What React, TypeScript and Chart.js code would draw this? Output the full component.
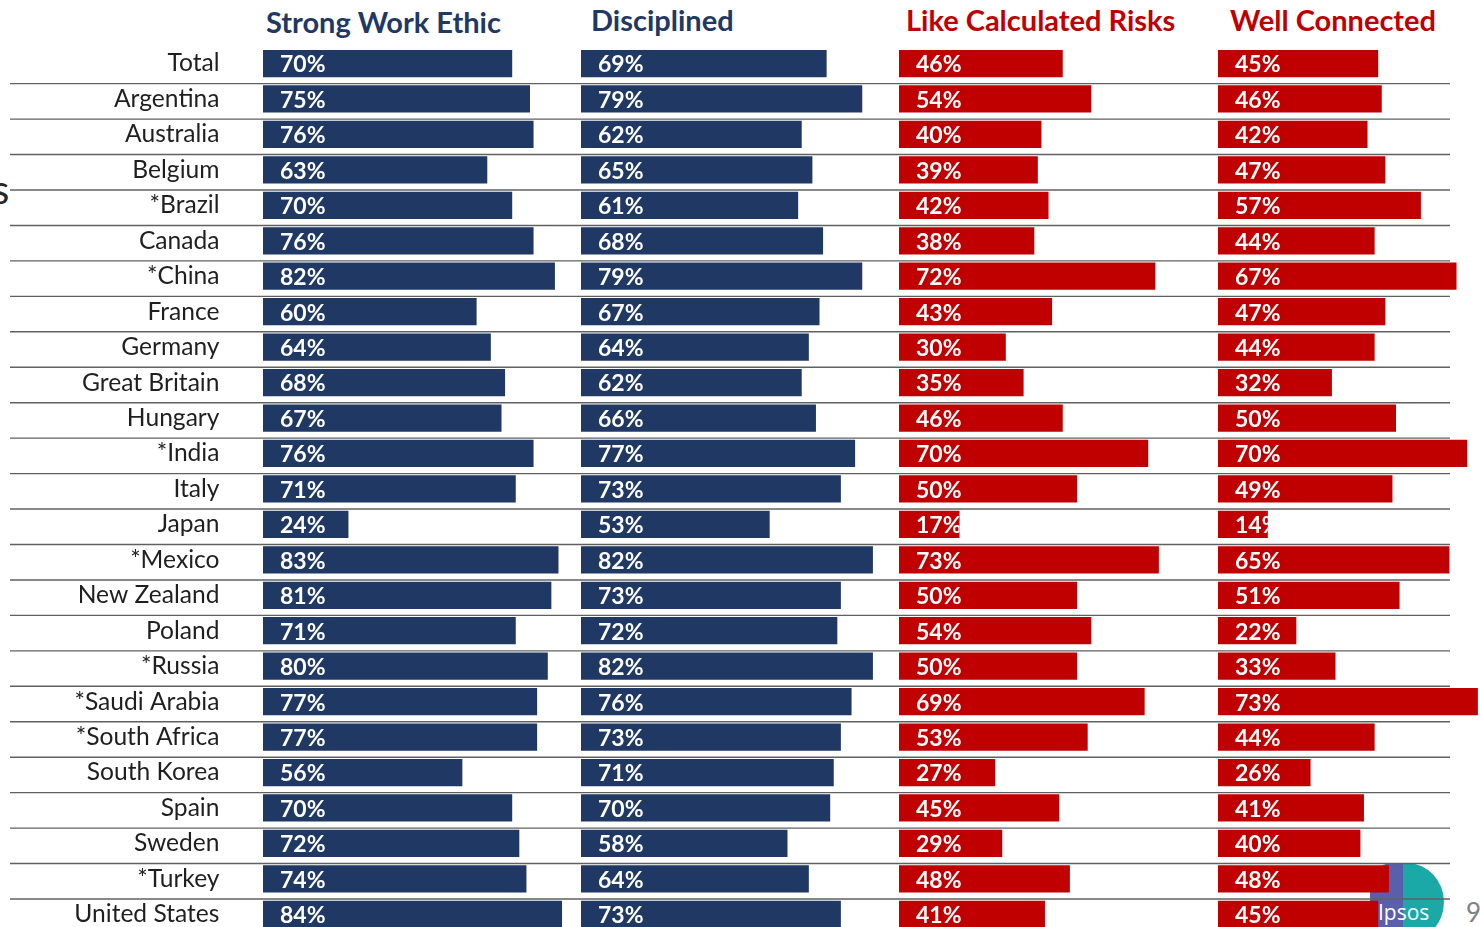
import React, { useEffect, useRef } from "react";
import { Chart, registerables } from "chart.js";

Chart.register(...registerables);

// ---------- data ----------
const countries = [
  "Total", "Argentina", "Australia", "Belgium", "*Brazil", "Canada", "*China", "France",
  "Germany", "Great Britain", "Hungary", "*India", "Italy", "Japan", "*Mexico", "New Zealand",
  "Poland", "*Russia", "*Saudi Arabia", "*South Africa", "South Korea", "Spain", "Sweden",
  "*Turkey", "United States",
];
const strongWorkEthic = [70, 75, 76, 63, 70, 76, 82, 60, 64, 68, 67, 76, 71, 24, 83, 81, 71, 80, 77, 77, 56, 70, 72, 74, 84];
const disciplined = [69, 79, 62, 65, 61, 68, 79, 67, 64, 62, 66, 77, 73, 53, 82, 73, 72, 82, 76, 73, 71, 70, 58, 64, 73];
const likeCalculatedRisks = [46, 54, 40, 39, 42, 38, 72, 43, 30, 35, 46, 70, 50, 17, 73, 50, 54, 50, 69, 53, 27, 45, 29, 48, 41];
const wellConnected = [45, 46, 42, 47, 57, 44, 67, 47, 44, 32, 50, 70, 49, 14, 65, 51, 22, 33, 73, 44, 26, 41, 40, 48, 45];
const columnTitles = ["Strong Work Ethic", "Disciplined", "Like Calculated Risks", "Well Connected"];

// ---------- styling / layout ----------
const NAVY = "#1F3864";
const RED = "#C00000";
const FONT = "Lato, 'Open Sans', sans-serif";
const colors = [NAVY, NAVY, RED, RED];
const seriesList = [strongWorkEthic, disciplined, likeCalculatedRisks, wellConnected];
const COL_LEFT = [263, 581, 899, 1218];
const TITLE_LEFT = [266, 591, 906, 1230];
const TITLE_BASE = [33, 31, 31, 31];
const AREA_W = 356; // 0..100 %
const TOP = 45.8;
const ROW_H = 35.45;
const CANVAS_H = 952;
const W0 = 1480;

const barLabelPlugin = {
  id: "barLabels",
  afterDatasetsDraw(chart: any) {
    const ctx = chart.ctx;
    const ds = chart.data.datasets[0];
    const meta = chart.getDatasetMeta(0);
    meta.data.forEach((bar: any, i: number) => {
      const p = bar.getProps(["x", "y", "base", "height"], true);
      ctx.save();
      ctx.beginPath();
      ctx.rect(p.base, p.y - p.height / 2, p.x - p.base, p.height);
      ctx.clip();
      ctx.fillStyle = "#ffffff";
      ctx.font = `bold 23px ${FONT}`;
      ctx.textBaseline = "middle";
      ctx.textAlign = "left";
      ctx.fillText(ds.data[i] + "%", p.base + 17, p.y + 1.5);
      ctx.restore();
    });
  },
};

const separatorPlugin = {
  id: "separators",
  beforeDatasetsDraw(chart: any) {
    const y = chart.scales.y;
    const ctx = chart.ctx;
    ctx.save();
    ctx.strokeStyle = "#606060";
    ctx.lineWidth = 1.4;
    for (let i = 1; i < countries.length; i++) {
      const yy = (y.getPixelForValue(i - 1) + y.getPixelForValue(i)) / 2 + 2.4;
      ctx.beginPath();
      ctx.moveTo(10, yy);
      ctx.lineTo(1450, yy);
      ctx.stroke();
    }
    ctx.restore();
  },
};

function makeConfig(idx: number): any {
  const first = idx === 0;
  const chartLeft = first ? COL_LEFT[0] : 0;
  const width = first ? W0 : AREA_W;
  return {
    type: "bar",
    data: {
      labels: countries,
      datasets: [
        {
          data: seriesList[idx],
          backgroundColor: colors[idx],
          borderWidth: 0,
          categoryPercentage: 1,
          barPercentage: 0.77,
        },
      ],
    },
    options: {
      indexAxis: "y",
      animation: false,
      responsive: false,
      maintainAspectRatio: false,
      events: [],
      layout: {
        padding: {
          top: TOP,
          bottom: CANVAS_H - TOP - countries.length * ROW_H,
          left: 0,
          right: width - chartLeft - AREA_W,
        },
      },
      plugins: {
        legend: { display: false },
        tooltip: { enabled: false },
        title: { display: false },
      },
      scales: {
        x: { display: false, min: 0, max: 100 },
        y: {
          display: first,
          grid: { display: false, drawTicks: true, tickLength: 41.5 },
          border: { display: false },
          ticks: {
            autoSkip: false,
            padding: 2,
            color: "#1f1f1f",
            font: { family: FONT, size: 24.6 },
          },
          afterFit(scale: any) {
            if (first) scale.width = COL_LEFT[0];
          },
        },
      },
    },
    plugins: first ? [separatorPlugin, barLabelPlugin] : [barLabelPlugin],
  };
}

export default function App() {
  const refs = [useRef<HTMLCanvasElement>(null), useRef<HTMLCanvasElement>(null), useRef<HTMLCanvasElement>(null), useRef<HTMLCanvasElement>(null)];

  useEffect(() => {
    const charts = refs.map((r, i) => new Chart(r.current as HTMLCanvasElement, makeConfig(i)));
    return () => charts.forEach((c) => c.destroy());
  }, []);

  return (
    <div
      style={{
        position: "fixed",
        left: 0,
        top: 0,
        width: 1480,
        height: 927,
        overflow: "hidden",
        background: "#ffffff",
        fontFamily: FONT,
      }}
    >
      {/* cut-off glyph at left edge of the slide */}
      <div style={{ position: "absolute", left: -8, top: 168.5, fontSize: 40, lineHeight: "40px", color: "#262626" }}>s</div>

      {/* Ipsos logo (behind bars) */}
      <div
        style={{
          position: "absolute",
          left: 1370,
          top: 863,
          width: 74,
          height: 78,
          borderRadius: "30% 50% 50% 30%",
          background: "linear-gradient(90deg, #5a5fab 0%, #5a5fab 44%, #1aa9a7 44%, #1aa9a7 100%)",
          overflow: "hidden",
        }}
      >
        <div
          style={{
            position: "absolute",
            left: 8,
            top: 39,
            color: "#ffffff",
            fontSize: 21,
            lineHeight: "21px",
            fontFamily: "'Open Sans', sans-serif",
          }}
        >
          Ipsos
        </div>
      </div>
      <div style={{ position: "absolute", left: 1466, top: 899, fontSize: 26, lineHeight: "26px", color: "#808080" }}>9</div>

      {columnTitles.map((t, i) => (
        <div
          key={t}
          style={{
            position: "absolute",
            left: TITLE_LEFT[i],
            top: TITLE_BASE[i] - 0.887 * 29,
            fontSize: 29,
            lineHeight: "29px",
            fontWeight: 700,
            color: colors[i],
            whiteSpace: "nowrap",
          }}
        >
          {t}
        </div>
      ))}

      {refs.map((r, i) => (
        <canvas
          key={i}
          ref={r}
          width={i === 0 ? W0 : AREA_W}
          height={CANVAS_H}
          style={{
            position: "absolute",
            left: i === 0 ? 0 : COL_LEFT[i],
            top: 0,
            width: i === 0 ? W0 : AREA_W,
            height: CANVAS_H,
          }}
        />
      ))}
    </div>
  );
}
